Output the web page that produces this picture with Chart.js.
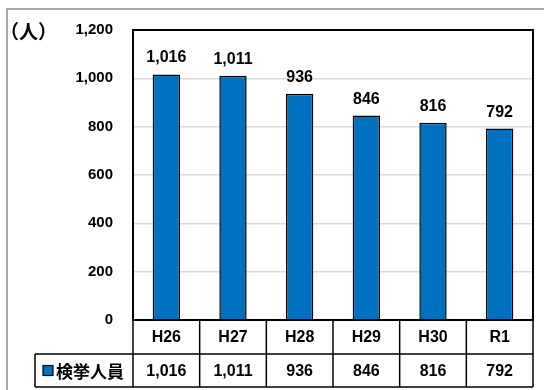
<!DOCTYPE html>
<html>
<head>
<meta charset="utf-8">
<script src="https://cdn.jsdelivr.net/npm/chart.js@4"></script>
<style>
  html, body { margin: 0; padding: 0; background: #fff; }
  #wrap { width: 544px; height: 390px; }
</style>
</head>
<body>
<div id="wrap"><canvas id="arrestChart" width="544" height="390"></canvas></div>
<script>
// 年度別 検挙人員
const years = ['H26', 'H27', 'H28', 'H29', 'H30', 'R1'];
const arrests = [1016, 1011, 936, 846, 816, 792];
const seriesName = '検挙人員';
const unitLabel = '（人）';
const yMin = 0;
const yMax = 1200;
const yStep = 200;

const NUM_FONT = 'bold 16px "Liberation Sans", Arial, sans-serif';
const JP_FONT = 'bold 17px "Noto Sans CJK JP", sans-serif';
const BAR_BLUE = '#0070C0';

const fmt = v => v.toLocaleString('en-US');

// 背景と外枠
const frame = {
    id: 'frame',
    beforeDraw(chart) {
        const ctx = chart.ctx;
        ctx.save();
        ctx.fillStyle = '#fff';
        ctx.fillRect(0, 0, chart.width, chart.height);
        ctx.strokeStyle = '#8c8c8c';
        ctx.lineWidth = 1.5;
        ctx.strokeRect(7, 9, chart.width + 20, chart.height + 20);
        ctx.restore();
    }
};

// 棒の上の値、単位、プロット枠、下のデータ表
const extras = {
    id: 'extras',
    afterDraw(chart) {
        const ctx = chart.ctx;
        const area = chart.chartArea;
        const xs = chart.scales.x;
        const meta = chart.getDatasetMeta(0);
        ctx.save();

        // 単位
        ctx.fillStyle = '#000';
        ctx.font = 'bold 19px "Noto Sans CJK JP", sans-serif';
        ctx.textAlign = 'left';
        ctx.textBaseline = 'middle';
        ctx.fillText(unitLabel, 0, 32);

        // データラベル
        ctx.font = NUM_FONT;
        ctx.textAlign = 'center';
        ctx.textBaseline = 'alphabetic';
        meta.data.forEach((bar, i) => {
            ctx.fillText(fmt(arrests[i]), bar.x, bar.y - 12);
        });

        // プロット枠
        ctx.strokeStyle = '#000';
        ctx.lineWidth = 2;
        ctx.strokeRect(area.left, area.top, area.right - area.left, area.bottom - area.top);

        // データ表
        const half = (xs.getPixelForValue(1) - xs.getPixelForValue(0)) / 2;
        const row1 = area.bottom;
        const row2 = row1 + 34;
        const row3 = row2 + 33;
        const legendLeft = 35;

        ctx.lineWidth = 1.5;
        ctx.beginPath();
        ctx.moveTo(area.left, row1); ctx.lineTo(area.right, row1);
        ctx.moveTo(legendLeft, row2); ctx.lineTo(area.right, row2);
        ctx.moveTo(legendLeft, row3); ctx.lineTo(area.right, row3);
        ctx.moveTo(legendLeft, row2); ctx.lineTo(legendLeft, row3);
        ctx.moveTo(area.left, row1); ctx.lineTo(area.left, row3);
        years.forEach((y, i) => {
            const r = xs.getPixelForValue(i) + half;
            ctx.moveTo(r, row1); ctx.lineTo(r, row3);
        });
        ctx.stroke();

        ctx.textBaseline = 'middle';
        ctx.font = NUM_FONT;
        years.forEach((y, i) => {
            const cx = xs.getPixelForValue(i);
            ctx.fillText(y, cx, (row1 + row2) / 2 + 1);
            ctx.fillText(fmt(arrests[i]), cx, (row2 + row3) / 2 + 1);
        });

        // 凡例キー
        const keyY = (row2 + row3) / 2;
        ctx.fillStyle = BAR_BLUE;
        ctx.fillRect(43, keyY - 5, 10, 10);
        ctx.strokeStyle = '#000';
        ctx.lineWidth = 1.2;
        ctx.strokeRect(43, keyY - 5, 10, 10);
        ctx.fillStyle = '#000';
        ctx.font = JP_FONT;
        ctx.textAlign = 'left';
        ctx.fillText(seriesName, 56, keyY + 1);

        ctx.restore();
    }
};

new Chart(document.getElementById('arrestChart'), {
    type: 'bar',
    data: {
        labels: years,
        datasets: [{
            label: seriesName,
            data: arrests,
            backgroundColor: BAR_BLUE,
            borderColor: '#000',
            borderWidth: 1.5,
            categoryPercentage: 1,
            barPercentage: 0.41
        }]
    },
    options: {
        responsive: false,
        animation: false,
        layout: { padding: { top: 30, right: 11, left: 0, bottom: 0 } },
        plugins: {
            legend: { display: false },
            tooltip: { enabled: false }
        },
        scales: {
            x: {
                grid: { display: false },
                border: { display: false },
                ticks: { display: false },
                afterFit: s => { s.height = 70; }
            },
            y: {
                min: yMin,
                max: yMax,
                ticks: {
                    stepSize: yStep,
                    padding: 20,
                    color: '#000',
                    font: { family: '"Liberation Sans", Arial, sans-serif', size: 15, weight: 'bold' },
                    callback: v => fmt(v)
                },
                grid: { color: '#d9d9d9', lineWidth: 1.5, drawTicks: false },
                border: { display: false },
                afterFit: s => { s.width = 133; }
            }
        }
    },
    plugins: [frame, extras]
});
</script>
</body>
</html>
